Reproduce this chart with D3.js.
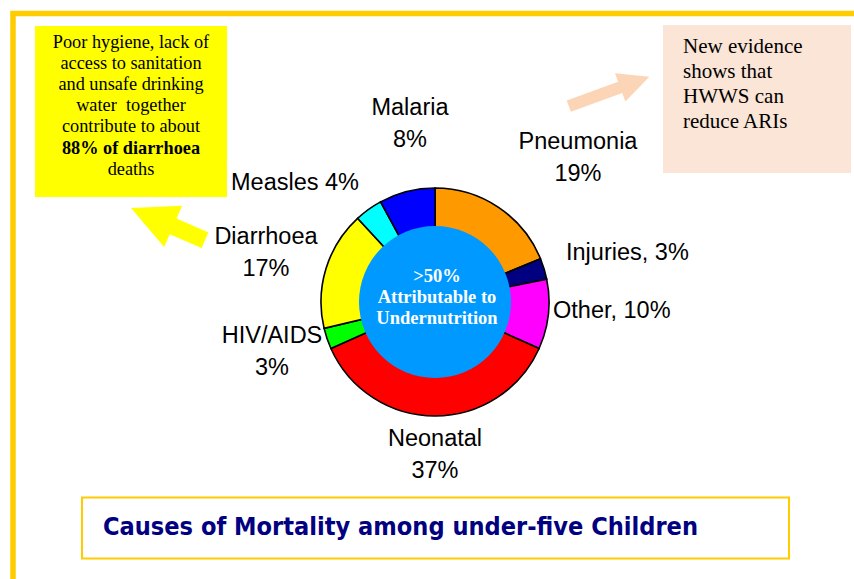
<!DOCTYPE html>
<html>
<head>
<meta charset="utf-8">
<script src="https://d3js.org/d3.v7.min.js"></script>
<style>
  body { margin: 0; background: #fff; }
  svg { display: block; }
</style>
</head>
<body>
<svg class="donut" width="854" height="579"></svg>
<script>
// data
let causes = ["Pneumonia", "Injuries", "Other", "Neonatal", "HIV/AIDS", "Diarrhoea", "Measles", "Malaria"];
let shares = [19, 3, 10, 37, 3, 17, 4, 8];
let sliceColors = ["#FF9900", "#000080", "#FF00FF", "#FF0000", "#00FF00", "#FFFF00", "#00FFFF", "#0000FF"];
let centerLines = [">50%", "Attributable to", "Undernutrition"];
let hygieneLines = ["Poor hygiene, lack of", "access to sanitation", "and unsafe drinking", "water  together", "contribute to about", "88% of diarrhoea", "deaths"];
let hwwsLines = ["New evidence", "shows that", "HWWS can", "reduce ARIs"];
let title = "Causes of Mortality among under-five Children";

// where each label sits (hand placed on the slide)
let labelLayout = {
  "Pneumonia": {x: 578, y: 149, anchor: "middle", fmt: "two"},
  "Injuries":  {x: 566, y: 260, anchor: "start", fmt: "comma"},
  "Other":     {x: 553, y: 318, anchor: "start", fmt: "comma"},
  "Neonatal":  {x: 435, y: 446, anchor: "middle", fmt: "two"},
  "HIV/AIDS":  {x: 272, y: 343, anchor: "middle", fmt: "two"},
  "Diarrhoea": {x: 266, y: 244, anchor: "middle", fmt: "two"},
  "Measles":   {x: 231, y: 190, anchor: "start", fmt: "space"},
  "Malaria":   {x: 410, y: 115, anchor: "middle", fmt: "two"}
};

let svg = d3.select("body").select(".donut");

// slide frame
svg.append("rect")
  .attr("x", 13).attr("y", 13.5)
  .attr("width", 900).attr("height", 700)
  .attr("fill", "none")
  .attr("stroke", "#FFCC00")
  .attr("stroke-width", 5.5);

// yellow note
let note = svg.append("g");
note.append("rect")
  .attr("x", 35).attr("y", 26)
  .attr("width", 192).attr("height", 171)
  .attr("fill", "#FFFF00");
note.selectAll("text")
  .data(hygieneLines)
  .enter().append("text")
  .attr("x", 131)
  .attr("y", (d, i) => 48 + i * 21.1)
  .attr("text-anchor", "middle")
  .style("font-family", "'Times New Roman', 'Liberation Serif', serif")
  .style("font-size", "18.3px")
  .style("font-weight", (d, i) => i == 5 ? "bold" : "normal")
  .style("white-space", "pre")
  .text(d => d);

// peach note
let note2 = svg.append("g");
note2.append("rect")
  .attr("x", 663).attr("y", 25)
  .attr("width", 188).attr("height", 148)
  .attr("fill", "#FBE5D6");
note2.selectAll("text")
  .data(hwwsLines)
  .enter().append("text")
  .attr("x", 683)
  .attr("y", (d, i) => 53 + i * 25)
  .style("font-family", "'Times New Roman', 'Liberation Serif', serif")
  .style("font-size", "21px")
  .text(d => d);

// block arrows
drawArrow([205, 240.3], [131, 208], 17, 45, 46, "#FFFF00");
drawArrow([568.8, 106.2], [649.3, 76.7], 12, 30, 31, "#FBD5B5");

// donut
let cx = 435, cy = 302, outerR = 114, holeR = 76;
let pie = d3.pie().sort(null).value(d => d.share);
let arc = d3.arc().innerRadius(0).outerRadius(outerR);
let table = causes.map((c, i) => ({cause: c, share: shares[i]}));
let color = d3.scaleOrdinal().domain(causes).range(sliceColors);

let plot = svg.append("g").attr("transform", translate(cx, cy));
plot.selectAll("path")
  .data(pie(table))
  .enter().append("path")
  .attr("d", arc)
  .attr("fill", d => color(d.data.cause))
  .attr("stroke", "#000")
  .attr("stroke-width", 1.6);

plot.append("circle")
  .attr("r", holeR)
  .attr("fill", "#0099FF");

plot.selectAll(".center-text")
  .data(centerLines)
  .enter().append("text")
  .attr("class", "center-text")
  .attr("x", 2)
  .attr("y", (d, i) => -20 + i * 21)
  .attr("text-anchor", "middle")
  .attr("fill", "#fff")
  .style("font-family", "'Times New Roman', 'Liberation Serif', serif")
  .style("font-size", "18.5px")
  .style("font-weight", "bold")
  .text(d => d);

// slice labels
table.forEach(function(d) {
  let lay = labelLayout[d.cause];
  let lines;
  if (lay.fmt == "two") lines = [d.cause, d.share + "%"];
  else if (lay.fmt == "comma") lines = [d.cause + ", " + d.share + "%"];
  else lines = [d.cause + " " + d.share + "%"];
  let t = svg.append("text")
    .attr("text-anchor", lay.anchor)
    .style("font-family", "Arial, 'Liberation Sans', sans-serif")
    .style("font-size", "23.5px")
    .attr("fill", "#000");
  lines.forEach(function(l, i) {
    t.append("tspan")
      .attr("x", lay.x)
      .attr("y", lay.y + i * 31.5)
      .text(l);
  });
});

// title box
svg.append("rect")
  .attr("x", 82).attr("y", 497.5)
  .attr("width", 707).attr("height", 61)
  .attr("fill", "#fff")
  .attr("stroke", "#FFCC00")
  .attr("stroke-width", 2);
svg.append("text")
  .attr("x", 103).attr("y", 535)
  .attr("textLength", 595)
  .attr("lengthAdjust", "spacingAndGlyphs")
  .attr("fill", "#000080")
  .style("font-family", "'Comic Sans MS', 'DejaVu Sans', sans-serif")
  .style("font-size", "24px")
  .style("font-weight", "bold")
  .text(title);

function drawArrow(tail, tip, shaftW, headW, headL, fill) {
  let dx = tip[0] - tail[0], dy = tip[1] - tail[1];
  let len = Math.sqrt(dx * dx + dy * dy);
  let ux = dx / len, uy = dy / len;
  let px = -uy, py = ux;
  let bx = tip[0] - ux * headL, by = tip[1] - uy * headL;
  let pts = [
    [tail[0] + px * shaftW / 2, tail[1] + py * shaftW / 2],
    [bx + px * shaftW / 2, by + py * shaftW / 2],
    [bx + px * headW / 2, by + py * headW / 2],
    tip,
    [bx - px * headW / 2, by - py * headW / 2],
    [bx - px * shaftW / 2, by - py * shaftW / 2],
    [tail[0] - px * shaftW / 2, tail[1] - py * shaftW / 2]
  ];
  svg.append("path")
    .attr("d", d3.line()(pts) + "Z")
    .attr("fill", fill);
}

function translate(x, y) {
  return 'translate(' + x + ',' + y + ')';
}
</script>
</body>
</html>
